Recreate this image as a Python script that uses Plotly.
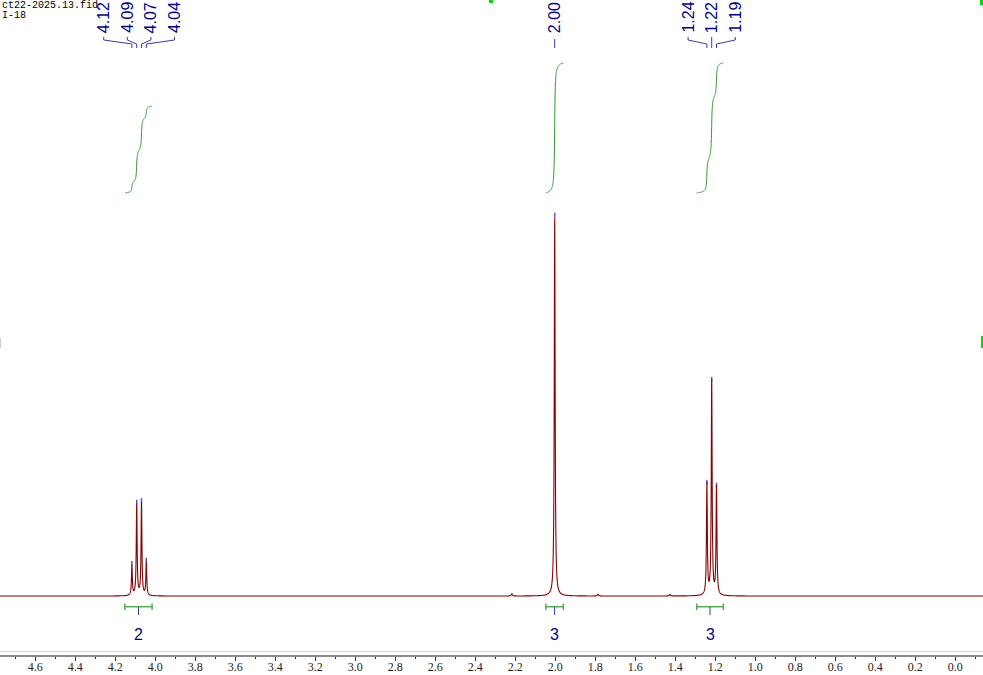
import numpy as np
import plotly.graph_objects as go

# ---------------- data ----------------
title_lines = ["ct22-2025.13.fid", "I-18"]

peak_ppm = [4.117, 4.093, 4.069, 4.045, 2.003, 1.242, 1.218, 1.194]
peak_height = [7.9, 24.1, 24.5, 8.7, 100.0, 29.4, 56.6, 28.6]
peak_labels = ["4.12", "4.09", "4.07", "4.04", "2.00", "1.24", "1.22", "1.19"]
peak_group = [0, 0, 0, 0, 1, 2, 2, 2]

impurity_ppm = [2.217, 1.786, 1.427]
impurity_height = [0.6, 0.5, 0.4]

int_start = [4.152, 2.047, 1.293]
int_end = [4.016, 1.960, 1.160]
int_value = [2, 3, 3]
int_labels = ["2", "3", "3"]

x_ticks = [4.6, 4.4, 4.2, 4.0, 3.8, 3.6, 3.4, 3.2, 3.0, 2.8, 2.6, 2.4,
           2.2, 2.0, 1.8, 1.6, 1.4, 1.2, 1.0, 0.8, 0.6, 0.4, 0.2, 0.0]
x_tick_text = ["4.6", "4.4", "4.2", "4.0", "3.8", "3.6", "3.4", "3.2", "3.0", "2.8", "2.6", "2.4",
               "2.2", "2.0", "1.8", "1.6", "1.4", "1.2", "1.0", "0.8", "0.6", "0.4", "0.2", "0.0"]

# ---------------- layout constants ----------------
W, H = 983, 675
PLOT_H = 655.0
X_RANGE = [4.7765, -0.1385]
Y_RANGE = [-15.6, 157.7]
Y2_RANGE = [-10.66, 4.45]

SPEC_COLOR = "#8B0000"
LABEL_COLOR = "#00008B"
CONN_COLOR = "#3a3aa8"
INT_COLOR = "#2f9a2f"
BRACKET_COLOR = "#4caf50"


def yp(px):
    return 1 - px / PLOT_H


# ---------------- spectrum ----------------
ppm = np.arange(-0.14, 4.78, 0.0005)
ppm = np.unique(np.concatenate([ppm, peak_ppm, impurity_ppm]))[::-1]
hw = 0.0026


def lor(x, x0, h, w):
    return h * w ** 2 / ((x - x0) ** 2 + w ** 2)


spec = np.zeros_like(ppm)
for p, h in zip(peak_ppm, peak_height):
    spec += lor(ppm, p, h, hw)
for p, h in zip(impurity_ppm, impurity_height):
    spec += lor(ppm, p, h, 0.003)

fig = go.Figure()

# peak-top markers
mx, my = [], []
for p, h in zip(peak_ppm, peak_height):
    mx += [p, p, None]
    my += [h + 0.1, h + 1.4, None]
fig.add_trace(go.Scatter(x=mx, y=my, mode="lines", line=dict(color="#5555c8", width=1.5),
                         hoverinfo="skip", showlegend=False))

fig.add_trace(go.Scatter(x=ppm, y=spec, mode="lines",
                         line=dict(color=SPEC_COLOR, width=1.1, simplify=False),
                         hoverinfo="skip", showlegend=False))

# integral curves
for s, e, v in zip(int_start, int_end, int_value):
    m = (ppm <= s) & (ppm >= e)
    xs = ppm[m]
    cum = np.cumsum(spec[m])
    cum = (cum - cum[0]) / (cum[-1] - cum[0]) * v
    fig.add_trace(go.Scatter(x=xs, y=cum, mode="lines", yaxis="y2",
                             line=dict(color=INT_COLOR, width=1, simplify=False),
                             hoverinfo="skip", showlegend=False))

shapes = []
annotations = []

# peak labels and connectors
groups = sorted(set(peak_group))
spacing = 0.118
for g in groups:
    idx = [i for i, gg in enumerate(peak_group) if gg == g]
    idx.sort(key=lambda i: -peak_ppm[i])
    n = len(idx)
    center = float(np.mean([peak_ppm[i] for i in idx]))
    for k, i in enumerate(idx):
        lx = center + (n - 1) / 2 * spacing - k * spacing
        px = peak_ppm[i]
        annotations.append(dict(x=lx, y=yp(17.5), xref="x", yref="paper",
                                text=peak_labels[i], textangle=-90, showarrow=False,
                                xanchor="center", yanchor="middle",
                                font=dict(family="Liberation Sans, Arial", size=16, color=LABEL_COLOR)))
        if n == 1:
            path = f"M {px},{yp(39)} L {px},{yp(48)}"
        else:
            path = (f"M {lx},{yp(37)} L {lx},{yp(40)} L {px},{yp(44)} L {px},{yp(48)}")
        shapes.append(dict(type="path", path=path, xref="x", yref="paper",
                           line=dict(color=CONN_COLOR, width=1)))

# integration brackets and labels
for s, e, lab in zip(int_start, int_end, int_labels):
    mid = (s + e) / 2
    shapes.append(dict(type="line", xref="x", yref="paper", x0=s, x1=e, y0=yp(606.7), y1=yp(606.7),
                       line=dict(color=BRACKET_COLOR, width=1.5)))
    for xe in (s, e):
        shapes.append(dict(type="line", xref="x", yref="paper", x0=xe, x1=xe,
                           y0=yp(603.5), y1=yp(610), line=dict(color=BRACKET_COLOR, width=1.5)))
    shapes.append(dict(type="line", xref="x", yref="paper", x0=mid, x1=mid,
                       y0=yp(607), y1=yp(615), line=dict(color="#3a3ab0", width=1)))
    annotations.append(dict(x=mid, y=yp(634), xref="x", yref="paper", text=lab, showarrow=False,
                            xanchor="center", yanchor="middle",
                            font=dict(family="Liberation Sans, Arial", size=16, color=LABEL_COLOR)))

# file title
for j, t in enumerate(title_lines):
    annotations.append(dict(x=0, y=yp(5 + 11 * j), xref="paper", yref="paper", text=t,
                            showarrow=False, xanchor="left", yanchor="middle",
                            font=dict(family="Liberation Mono, monospace", size=10, color="#000")))

# light gray line above axis
shapes.append(dict(type="line", xref="paper", yref="paper", x0=0, x1=1, y0=yp(651.7), y1=yp(651.7),
                   line=dict(color="#d4d4d4", width=1)))

# window markers
shapes += [
    dict(type="rect", xref="paper", yref="paper", x0=489 / W, x1=493 / W, y0=yp(3), y1=yp(0),
         fillcolor="#00dd00", line=dict(width=0)),
    dict(type="rect", xref="paper", yref="paper", x0=980 / W, x1=1, y0=yp(5), y1=yp(0),
         fillcolor="#00dd00", line=dict(width=0)),
    dict(type="rect", xref="paper", yref="paper", x0=981 / W, x1=1, y0=yp(348), y1=yp(336),
         fillcolor="#00dd00", line=dict(width=0)),
    dict(type="rect", xref="paper", yref="paper", x0=0, x1=1 / W, y0=yp(348), y1=yp(338),
         fillcolor="#cccccc", line=dict(width=0)),
]

fig.update_layout(
    width=W, height=H,
    margin=dict(l=0, r=0, t=0, b=20, autoexpand=False),
    paper_bgcolor="white", plot_bgcolor="white",
    shapes=shapes, annotations=annotations,
    xaxis=dict(range=X_RANGE, tickvals=x_ticks, ticktext=x_tick_text, automargin=False,
               ticks="outside", ticklen=4, tickwidth=1, tickcolor="#333",
               ticklabelstandoff=-4,
               minor=dict(dtick=0.1, tick0=0, ticks="outside", ticklen=2, tickcolor="#333"),
               showline=True, linecolor="#8a8a8a", linewidth=1.5,
               showgrid=False, zeroline=False,
               tickfont=dict(family="Liberation Serif, serif", size=12, color="#222")),
    yaxis=dict(range=Y_RANGE, visible=False, showgrid=False, zeroline=False),
    yaxis2=dict(range=Y2_RANGE, overlaying="y", visible=False, showgrid=False, zeroline=False),
)

fig.write_html(
    "out.html",
    config={"displayModeBar": False},
    post_script="document.body.style.margin='0';document.body.style.padding='0';"
                "document.documentElement.style.overflow='hidden';",
)
